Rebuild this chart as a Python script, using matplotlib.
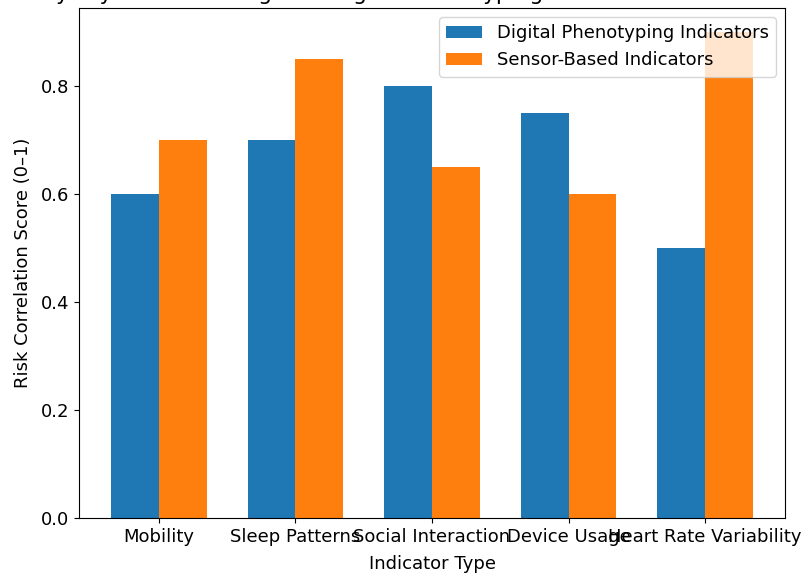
import numpy as np
import matplotlib
matplotlib.use('Agg')
import matplotlib.pyplot as plt

# Risk correlation per indicator type
indicators = ['Mobility', 'Sleep Patterns', 'Social Interaction', 'Device Usage', 'Heart Rate Variability']
digital_scores = [0.60, 0.70, 0.80, 0.75, 0.50]
sensor_scores = [0.70, 0.85, 0.65, 0.60, 0.90]

plt.rcParams['font.size'] = 13

fig = plt.figure(figsize=(8.05, 5.73), dpi=100)
ax = fig.add_axes([79/805, 55/573, 706/805, 510/573])

x = np.arange(len(indicators))
width = 0.35
ax.bar(x - width/2, digital_scores, width, label='Digital Phenotyping Indicators')
ax.bar(x + width/2, sensor_scores, width, label='Sensor-Based Indicators')

ax.set_xticks(x)
ax.set_xticklabels(indicators)
ax.set_xlabel('Indicator Type', labelpad=7)
ax.set_ylabel('Risk Correlation Score (0–1)', labelpad=6)
ax.set_title('Early Psychosis Risk Signals: Digital Phenotyping vs Sensor-Based Monitoring')
ax.legend(loc='upper right')

fig.savefig('out.png', dpi=100)
